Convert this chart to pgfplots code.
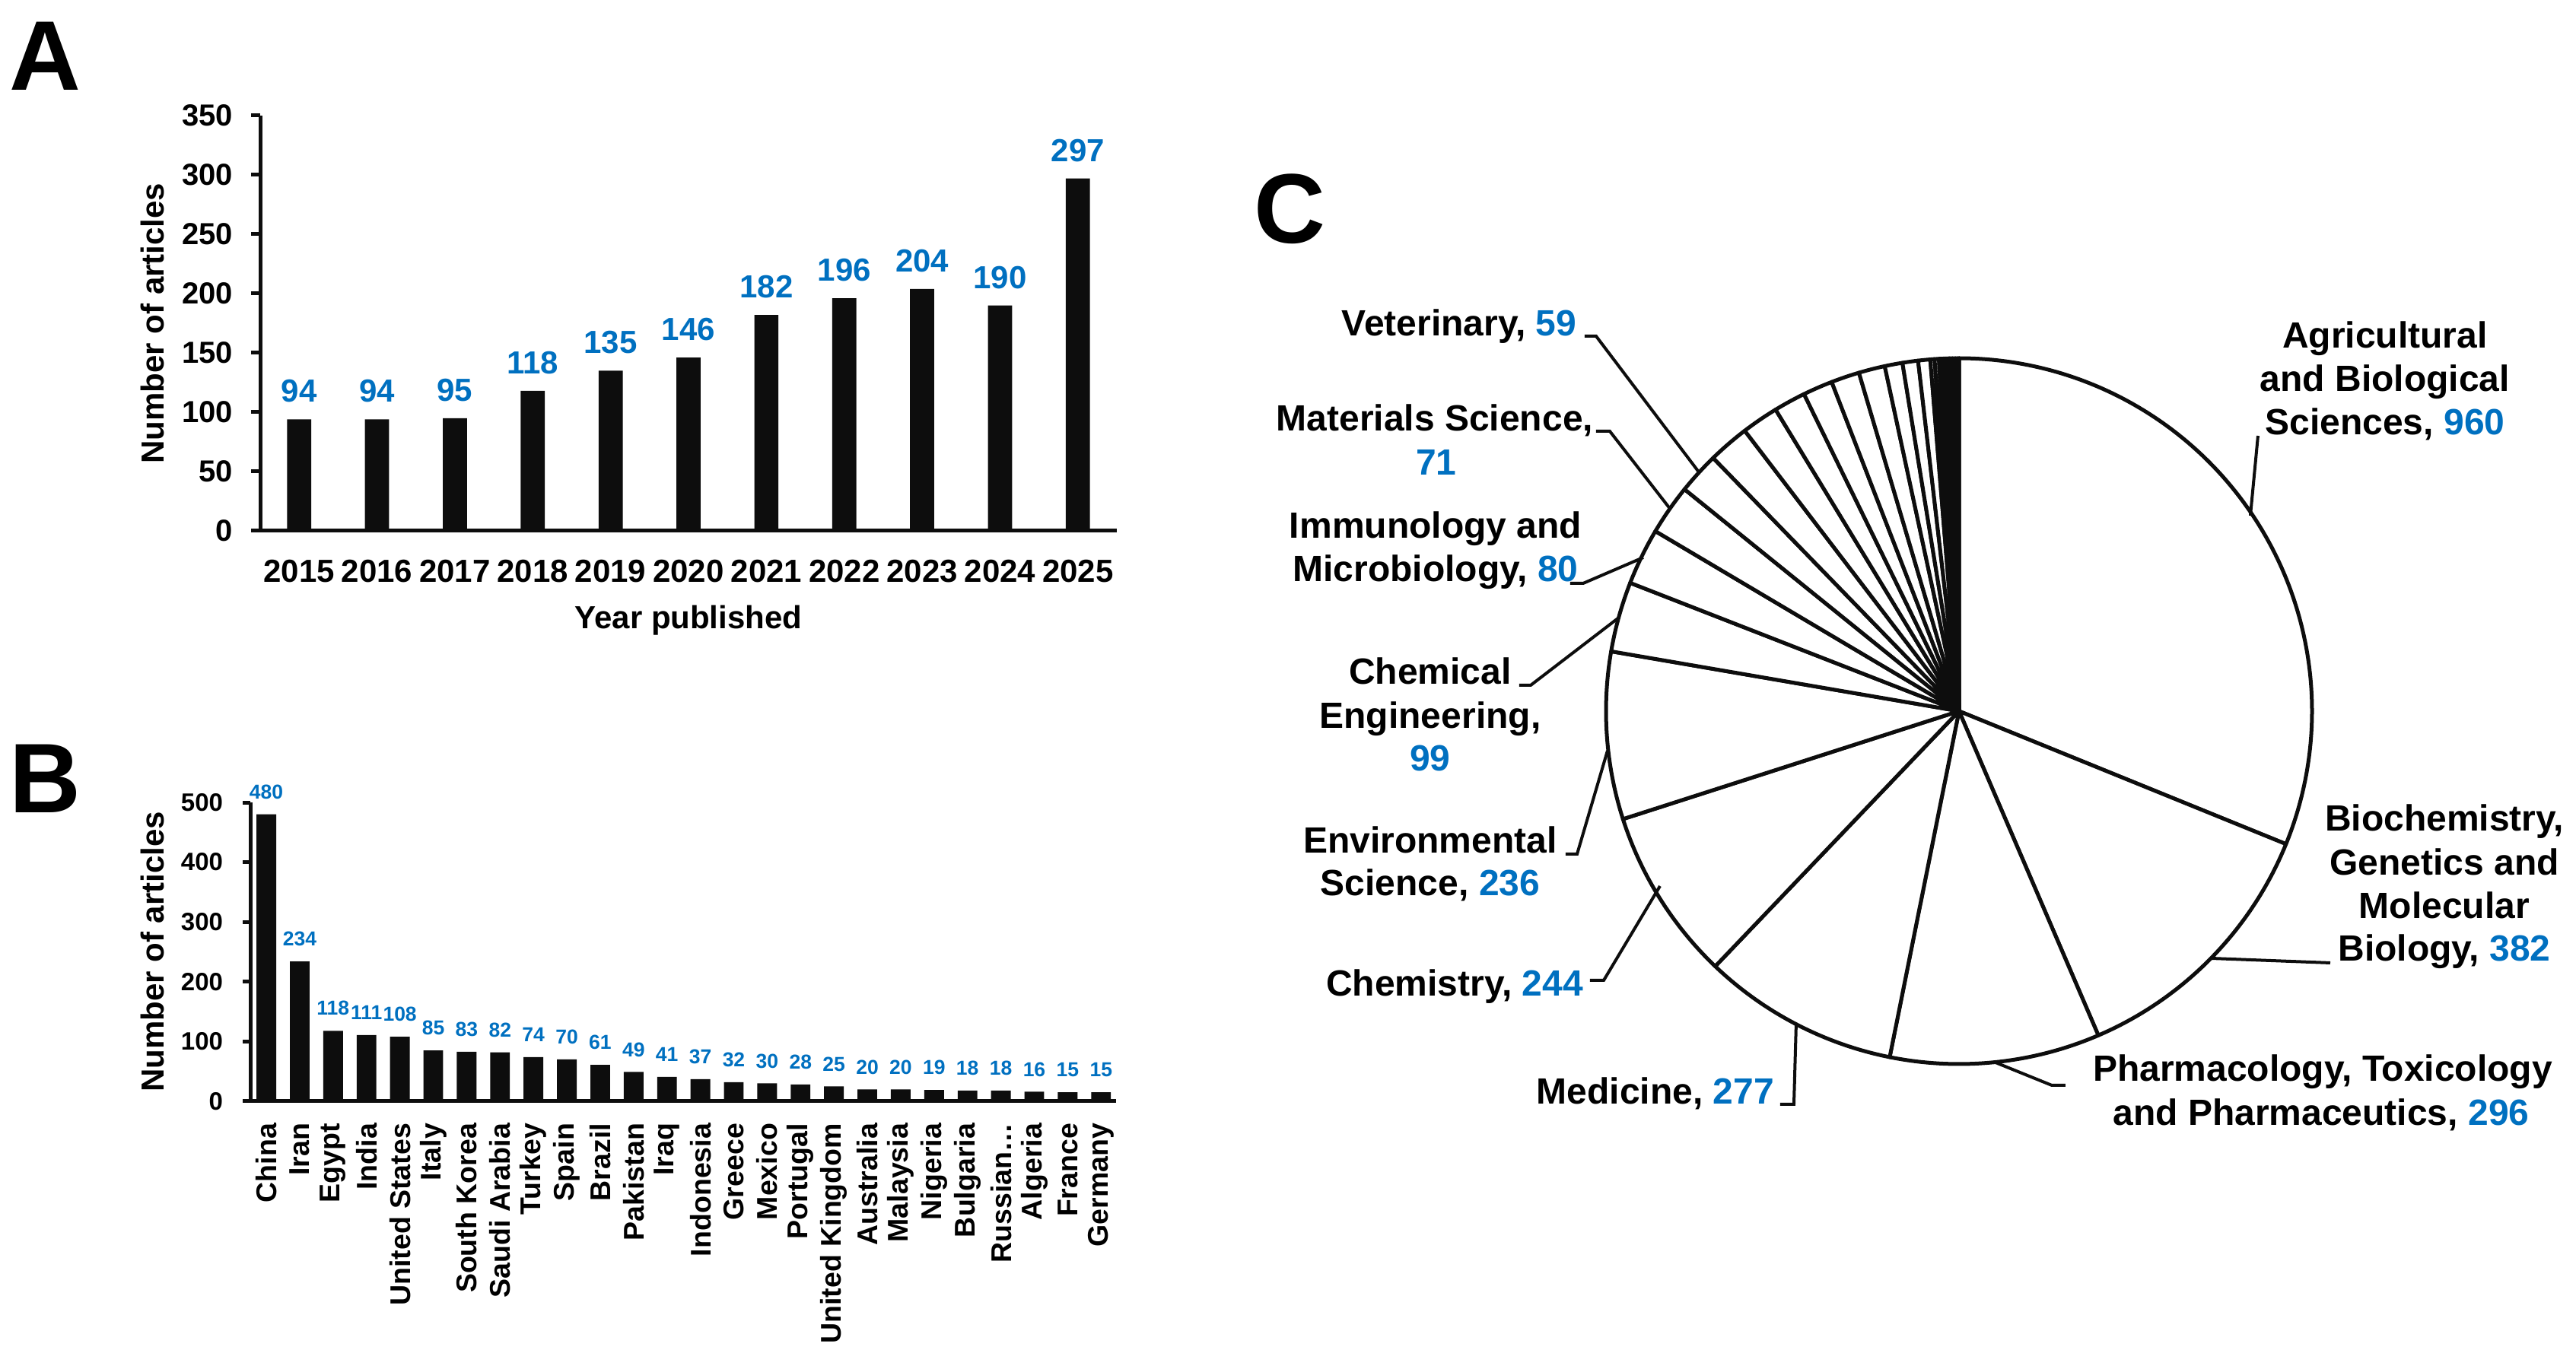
\documentclass[border=0pt]{standalone}
\usepackage{pgfplots}
\pgfplotsset{compat=1.18}
\usepackage{pgfplotstable}
\usepackage{fontspec}
\setmainfont{Liberation Sans}

\definecolor{valblue}{HTML}{0070C0}
\definecolor{barblack}{HTML}{0D0D0D}

% Articles per publication year
\pgfplotstableread{
year n
2015 94
2016 94
2017 95
2018 118
2019 135
2020 146
2021 182
2022 196
2023 204
2024 190
2025 297
}\yeartab

% Articles per country
\pgfplotstableread[col sep=comma]{
country,n
China,480
Iran,234
Egypt,118
India,111
United States,108
Italy,85
South Korea,83
Saudi Arabia,82
Turkey,74
Spain,70
Brazil,61
Pakistan,49
Iraq,41
Indonesia,37
Greece,32
Mexico,30
Portugal,28
United Kingdom,25
Australia,20
Malaysia,20
Nigeria,19
Bulgaria,18
Russian…,18
Algeria,16
France,15
Germany,15
}\countrytab

% Articles per subject area, clockwise from twelve o'clock
\pgfplotstableread{
n
960
382
296
277
244
236
99
80
71
59
58
52
45
42
40
37
25
22
17
6
6
5
5
5
4
4
3
2
}\subjecttab

% Sectors of the subject-area pie, built from the table above
\newcommand\pieR{92.8pt}
\gdef\pietotal{0}
\pgfplotstableforeachcolumnelement{n}\of\subjecttab\as\v{%
  \pgfmathparse{\pietotal+\v}\xdef\pietotal{\pgfmathresult}}
\gdef\piecum{0}
\gdef\pieslices{}
\pgfplotstableforeachcolumnelement{n}\of\subjecttab\as\v{%
  \pgfmathparse{90-360*(\piecum/\pietotal)}\let\pa\pgfmathresult
  \pgfmathparse{\piecum+\v}\xdef\piecum{\pgfmathresult}%
  \pgfmathparse{90-360*(\piecum/\pietotal)}\let\pb\pgfmathresult
  \ifdim\v pt<6pt \def\pf{barblack}\else\def\pf{white}\fi
  \xdef\pieslices{\unexpanded\expandafter{\pieslices}%
    \noexpand\draw[line width=1pt, draw=barblack, fill=\pf, line join=round]
      (axis cs:0,0) -- (axis cs:{cos(\pa)},{sin(\pa)})
      arc[start angle=\pa, end angle=\pb, radius=\pieR] -- cycle;}%
}

\newcommand\lblfont{\fontsize{8.4}{10}\selectfont\bfseries}
\newcommand\pielab{\fontsize{9.6}{11.5}\selectfont\bfseries}
\newcommand\num[1]{\textcolor{valblue}{#1}}

\pgfplotsset{
  /pgf/number format/assume math mode=true,
  panel/.style={
    scale only axis,
    axis x line*=bottom,
    axis y line*=left,
    axis line style={line width=1pt, barblack},
    tick align=outside,
    xtick style={draw=none},
    ytick style={line width=1pt, barblack},
    ymin=0,
    clip=false,
    ybar,
    nodes near coords,
    xlabel style={font=\lblfont, anchor=center},
    ylabel style={font=\lblfont, anchor=center},
  },
}

\begin{document}
\begin{tikzpicture}
% one unit of the layout grid below is 0.2pt, y counted downwards
\useasboundingbox (0,0) rectangle (677.2pt,-355pt);

% Panel A: publications per year
\begin{axis}[panel,
  at={(68.4pt,-139.6pt)}, anchor=south west,
  width=225.2pt, height=109.2pt,
  xmin=-0.5, xmax=10.5, ymax=350,
  ytick={0,50,...,350},
  major tick length=2.4pt,
  xtick={0,...,10},
  xticklabels={2015,2016,2017,2018,2019,2020,2021,2022,2023,2024,2025},
  yticklabel style={font=\fontsize{8}{9}\selectfont\bfseries, inner sep=0pt, xshift=-4.6pt},
  xticklabel style={font=\lblfont, inner sep=0pt, yshift=-5pt, anchor=north},
  xlabel={Year published},
  ylabel={Number of articles},
  xlabel style={at={(axis description cs:0.5,-0.215)}},
  ylabel style={at={(axis description cs:-0.126,0.5)}},
  bar width=0.31,
  every node near coord/.append style={font=\lblfont, text=valblue, inner sep=0pt, yshift=4.2pt},
]
\addplot[fill=barblack, draw=none] table[x expr=\coordindex, y=n]{\yeartab};
\end{axis}

% Panel B: publications per country
\begin{axis}[panel,
  at={(65.8pt,-289.6pt)}, anchor=south west,
  width=227.6pt, height=78.6pt,
  xmin=-0.48, xmax=25.45, ymax=500,
  ytick={0,100,...,500},
  major tick length=2pt,
  xtick={0,...,25},
  xticklabels from table={\countrytab}{country},
  yticklabel style={font=\fontsize{6.6}{8}\selectfont\bfseries, inner sep=0pt, xshift=-5pt},
  xticklabel style={font=\fontsize{7.5}{9}\selectfont\bfseries, inner sep=0pt, yshift=-3.6pt, rotate=90, anchor=east},
  ylabel={Number of articles},
  ylabel style={at={(axis description cs:-0.113,0.5)}},
  bar width=0.59,
  every node near coord/.append style={font=\fontsize{5.3}{6}\selectfont\bfseries, text=valblue, inner sep=0pt, yshift=3.8pt},
]
\addplot[fill=barblack, draw=none] table[x expr=\coordindex, y=n]{\countrytab};
\end{axis}

% Panel C: subject areas
\begin{axis}[
  at={(422.2pt,-279.8pt)}, anchor=south west,
  scale only axis, width=185.6pt, height=185.6pt,
  xmin=-1, xmax=1, ymin=-1, ymax=1,
  hide axis, clip=false,
]
\addplot[draw=none] coordinates {(0,0)};
\pieslices
\end{axis}

\begin{scope}[x=0.2pt, y=-0.2pt]
% leader lines of the pie labels
\begin{scope}[line width=0.8pt, draw=barblack]
\draw (2083,442) -- (2098,442) -- (2234,622);
\draw (2098,567) -- (2116,567) -- (2196,670);
\draw (2064,767) -- (2081,767) -- (2160,733);
\draw (1997,901) -- (2012,901) -- (2128,812);
\draw (2058,1123) -- (2073,1123) -- (2113,987);
\draw (2090,1289) -- (2108,1289) -- (2182,1165);
\draw (2340,1452) -- (2358,1452) -- (2361,1345);
\draw (2623,1397) -- (2697,1427) -- (2715,1427);
\draw (2906,1260) -- (3063,1266);
\draw (2958,678) -- (2968,573);
\end{scope}

% pie labels
\begin{scope}[every node/.style={font=\pielab, inner sep=0pt, anchor=base}]
\node at (1918,442) {Veterinary, \num{59}};
\node at (1886,567) {Materials Science,};
\node at (1888,625) {\num{71}};
\node at (1887,708) {Immunology and};
\node at (1887,765) {Microbiology, \num{80}};
\node at (1880,900) {Chemical};
\node at (1880,958) {Engineering,};
\node at (1880,1014) {\num{99}};
\node at (1880,1122) {Environmental};
\node at (1880,1178) {Science, \num{236}};
\node at (1912,1310) {Chemistry, \num{244}};
\node at (2176,1452) {Medicine, \num{277}};
\node at (3053,1422) {Pharmacology, Toxicology};
\node at (3051,1480) {and Pharmaceutics, \num{296}};
\node at (3213,1093) {Biochemistry,};
\node at (3213,1151) {Genetics and};
\node at (3213,1208) {Molecular};
\node at (3213,1264) {Biology, \num{382}};
\node at (3135,458) {Agricultural};
\node at (3135,515) {and Biological};
\node at (3135,572) {Sciences, \num{960}};
\end{scope}

% panel letters
\begin{scope}[every node/.style={font=\fontsize{26}{30}\selectfont\bfseries, inner sep=0pt, anchor=base}]
\node at (59,119) {A};
\node at (59,1069) {B};
\node at (1695,320) {C};
\end{scope}
\end{scope}
\end{tikzpicture}
\end{document}
